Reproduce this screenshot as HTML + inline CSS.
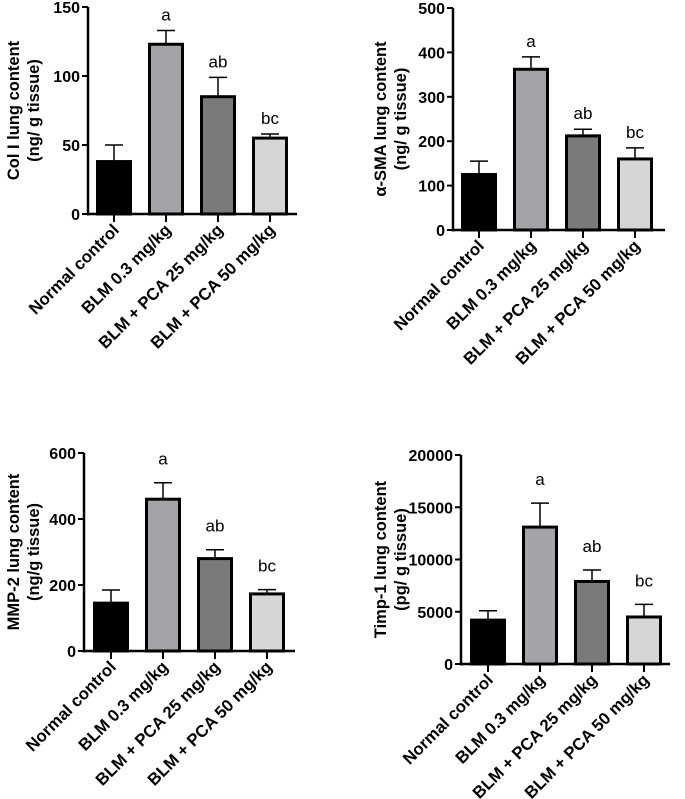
<!DOCTYPE html>
<html><head><meta charset="utf-8"><style>
body{margin:0;background:#fff;}
svg{display:block;font-family:"Liberation Sans",Arial,sans-serif;}
</style></head><body>
<svg id="c" width="685" height="799"></svg>
<script>
const categories=["Normal control","BLM 0.3 mg/kg","BLM + PCA 25 mg/kg","BLM + PCA 50 mg/kg"];
const colI=[38,123,85,55];
const colIErr=[12,10,14,3];
const sma=[125,362,212,160];
const smaErr=[30,28,15,25];
const mmp=[145,460,280,173];
const mmpErr=[40,50,27,13];
const timp=[4200,13100,7900,4500];
const timpErr=[900,2300,1100,1200];
const letters=["","a","ab","bc"];
const colITicks=[0,50,100,150];
const smaTicks=[0,100,200,300,400,500];
const mmpTicks=[0,200,400,600];
const timpTicks=[0,5000,10000,15000,20000];
const fills=["#000000","#a3a3a8","#7a7a7a","#d6d6d6"];
const NS="http://www.w3.org/2000/svg";
const svg=document.getElementById('c');
function mk(tag,attrs,parent,text){const e=document.createElementNS(NS,tag);for(const k in attrs)e.setAttribute(k,attrs[k]);if(text!==undefined)e.textContent=text;parent.appendChild(e);return e;}
function panel(p){
  const g=mk('g',{},svg);
  
  
  const max=p.ticks[p.ticks.length-1];
  const y=v=>p.y0-(v/max)*(p.y0-p.yTop);
  const x=i=>p.x0+p.first+i*p.step;
  mk('line',{x1:p.x0,y1:p.yTop,x2:p.x0,y2:p.y0+1.5,stroke:'#000','stroke-width':2.5},g);
  mk('line',{x1:p.x0-1,y1:p.y0,x2:p.xEnd,y2:p.y0,stroke:'#000','stroke-width':2.5},g);
  p.ticks.forEach(t=>{
    mk('line',{x1:p.x0-6,y1:y(t),x2:p.x0,y2:y(t),stroke:'#000','stroke-width':2},g);
    const tx=mk('text',{x:p.x0-8,y:y(t)+6,'text-anchor':'end','font-size':16,'font-weight':'bold'},g,t);
    
    
  });
  const bw=33;
  p.vals.forEach((v,i)=>{
    const cx=x(i);
    const top=y(v+p.err[i]);
    mk('line',{x1:cx,y1:y(v),x2:cx,y2:top,stroke:'#000','stroke-width':1.5},g);
    mk('line',{x1:cx-9,y1:top,x2:cx+9,y2:top,stroke:'#000','stroke-width':1.5},g);
    const r=mk('rect',{x:cx-bw/2,y:y(v),width:bw,height:p.y0-y(v),fill:fills[i],stroke:'#000','stroke-width':3},g);
    
    
    if(letters[i]){
      const lt=mk('text',{x:cx,y:top-p.lgap,'text-anchor':'middle','font-size':17},g,letters[i]);
      
      
    }
    mk('line',{x1:cx,y1:p.y0,x2:cx,y2:p.y0+8,stroke:'#000','stroke-width':2},g);
    const xl=mk('text',{x:cx+6,y:p.y0+17,'text-anchor':'end','font-size':16.8,'font-weight':'bold',transform:`rotate(-45 ${cx+6} ${p.y0+17})`},g,categories[i]);
    
    
  });
  const mid=(p.yTop+p.y0)/2;
  const t1=mk('text',{x:p.tx,y:mid,'text-anchor':'middle','font-size':16.5,'font-weight':'bold',transform:`rotate(-90 ${p.tx} ${mid})`},g,p.t1);
  
  
  const t2=mk('text',{x:p.tx+20,y:mid,'text-anchor':'middle','font-size':16.5,'font-weight':'bold',transform:`rotate(-90 ${p.tx+20} ${mid})`},g,p.t2);
  
  
}
panel({name:'col-i-chart',vals:colI,err:colIErr,ticks:colITicks,x0:88,xEnd:297,yTop:7,y0:214,first:26,step:52,lgap:10,tx:19,t1:'Col I lung content',t2:'(ng/ g tissue)'});
panel({name:'alpha-sma-chart',vals:sma,err:smaErr,ticks:smaTicks,x0:453,xEnd:665,yTop:8,y0:230,first:26,step:52,lgap:10,tx:386,t1:'α-SMA lung content',t2:'(ng/ g tissue)'});
panel({name:'mmp-2-chart',vals:mmp,err:mmpErr,ticks:mmpTicks,x0:84,xEnd:295,yTop:453,y0:651,first:27,step:52,lgap:18,tx:19,t1:'MMP-2 lung content',t2:'(ng/g tissue)'});
panel({name:'timp-1-chart',vals:timp,err:timpErr,ticks:timpTicks,x0:461,xEnd:670,yTop:455,y0:664,first:27,step:52,lgap:18,tx:386,t1:'Timp-1 lung content',t2:'(pg/ g tissue)'});
</script>
</body></html>
